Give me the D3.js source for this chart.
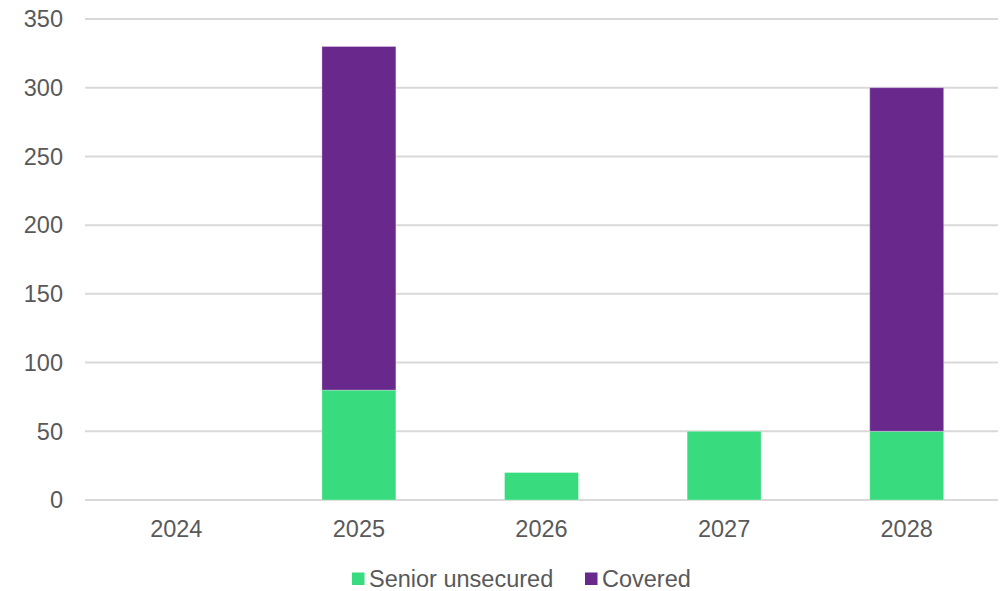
<!DOCTYPE html>
<html lang="en">
<head>
<meta charset="UTF-8">
<title>Maturities</title>
<style>
  body { margin: 0; background: #fff; }
  text { font-family: Arial, "Liberation Sans", Helvetica, sans-serif; fill: #595959; font-size: 23.5px; }
  .grid line { stroke: #d9d9d9; stroke-width: 2px; }
</style>
</head>
<body>
<div id="chart"></div>
<script src="https://d3js.org/d3.v7.min.js"></script>
<script>
var years = ["2024", "2025", "2026", "2027", "2028"];
var seniorUnsecured = [0, 80, 20, 50, 50];
var covered = [0, 250, 0, 0, 250];
var yTicks = [0, 50, 100, 150, 200, 250, 300, 350];
var seriesNames = ["Senior unsecured", "Covered"];
var colours = ["#38db7e", "#68288c"];

var width = 1002, height = 591;
var margin = { top: 19, right: 4, bottom: 91, left: 85 };

var svg = d3.select("#chart").append("svg")
  .attr("width", width)
  .attr("height", height);

var x = d3.scaleBand()
  .domain(years)
  .range([margin.left, width - margin.right])
  .paddingInner(0.595)
  .paddingOuter(0.2975);

var y = d3.scaleLinear()
  .domain([0, 350])
  .range([height - margin.bottom, margin.top]);

// gridlines
svg.append("g").attr("class", "grid")
  .selectAll("line")
  .data(yTicks)
  .enter().append("line")
  .attr("x1", margin.left)
  .attr("x2", width - margin.right)
  .attr("y1", function(d) { return y(d); })
  .attr("y2", function(d) { return y(d); });

// y labels
svg.append("g")
  .selectAll("text")
  .data(yTicks)
  .enter().append("text")
  .attr("x", 63)
  .attr("y", function(d) { return y(d); })
  .attr("dy", "0.35em")
  .attr("text-anchor", "end")
  .text(function(d) { return d; });

// stacked data
var rows = years.map(function(yr, i) {
  return { year: yr, s0: seniorUnsecured[i], s1: covered[i] };
});
var stack = d3.stack().keys(["s0", "s1"])(rows);

svg.append("g")
  .selectAll("g")
  .data(stack)
  .enter().append("g")
  .attr("fill", function(d, i) { return colours[i]; })
  .selectAll("rect")
  .data(function(d) { return d.filter(function(p) { return p[1] - p[0] > 0; }); })
  .enter().append("rect")
  .attr("x", function(d) { return x(d.data.year); })
  .attr("width", x.bandwidth())
  .attr("y", function(d) { return y(d[1]); })
  .attr("height", function(d) { return y(d[0]) - y(d[1]); })
  .attr("stroke", "#ffffff")
  .attr("stroke-opacity", 0.3)
  .attr("stroke-width", 1);

// x labels
svg.append("g")
  .selectAll("text")
  .data(years)
  .enter().append("text")
  .attr("x", function(d) { return x(d) + x.bandwidth() / 2; })
  .attr("y", 528.5)
  .attr("dy", "0.35em")
  .attr("text-anchor", "middle")
  .text(function(d) { return d; });

// legend
var legendX = [352, 585];
var legend = svg.append("g")
  .selectAll("g")
  .data(seriesNames)
  .enter().append("g")
  .attr("transform", function(d, i) { return "translate(" + legendX[i] + ",578.5)"; });

legend.append("rect")
  .attr("x", 0)
  .attr("y", -6)
  .attr("width", 12.5)
  .attr("height", 12.5)
  .attr("fill", function(d, i) { return colours[i]; });

legend.append("text")
  .attr("x", 17)
  .attr("y", 0)
  .attr("dy", "0.35em")
  .text(function(d) { return d; });
</script>
</body>
</html>
